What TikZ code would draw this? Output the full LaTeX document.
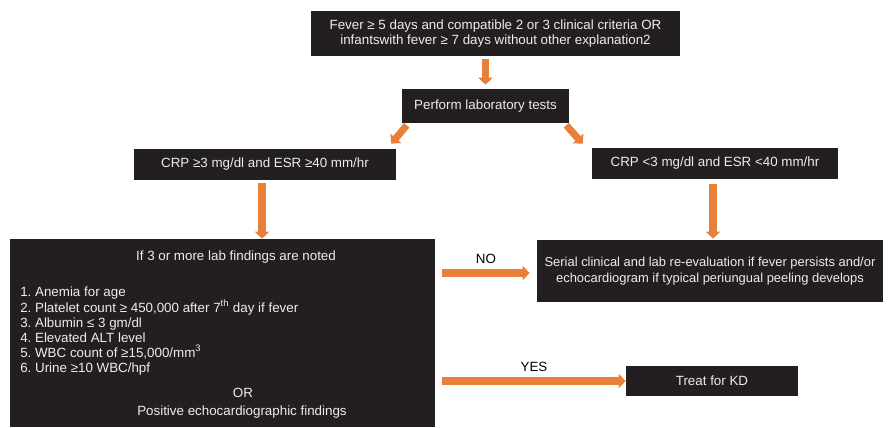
\documentclass[tikz,border=0pt]{standalone}
\usepackage{fontspec}
\setmainfont{Liberation Sans}
\usepackage{xcolor}
\usetikzlibrary{arrows.meta, positioning, calc}
\definecolor{boxfill}{HTML}{231F20}
\definecolor{boxtext}{HTML}{EDEDED}
\definecolor{flow}{HTML}{E8803A}
\frenchspacing

\begin{document}
\begin{tikzpicture}[x=0.025cm, y=-0.025cm,
  box/.style={fill=boxfill, text=boxtext, inner sep=0pt, align=center, font=\fontsize{9.5}{11.3}\selectfont},
  boxtxt/.style={text=boxtext, inner sep=0pt, font=\fontsize{9.5}{10.7}\selectfont},
  flowarrow/.style={draw=flow, line width=5pt, -{Triangle[width=10pt, length=5pt]}},
  tag/.style={inner sep=0pt, font=\fontsize{9.5}{11}\selectfont}]
  \useasboundingbox (0,0) rectangle (889,428);
  \node[box, minimum width=9.225cm, minimum height=1.125cm] (fever) at (495.5,33.5) {Fever ≥ 5 days and compatible 2 or 3 clinical criteria OR\\infantswith fever ≥ 7 days without other explanation2};
  \node[box, minimum width=4.175cm, minimum height=0.85cm] (lab) at (485.5,106) {Perform laboratory tests};
  \node[box, minimum width=6.55cm, minimum height=0.775cm] (crphi) at (265,164.5) {CRP ≥3 mg/dl and ESR ≥40 mm/hr};
  \node[box, minimum width=6.15cm, minimum height=0.775cm] (crplo) at (715,163.5) {CRP <3 mg/dl and ESR <40 mm/hr};
  \node[box, minimum width=10.625cm, minimum height=4.7cm] (findings) at (222.5,333) {};
  \node[box, minimum width=8.65cm, minimum height=1.55cm, font=\fontsize{9.2}{11.3}\selectfont] (serial) at (710,271) {Serial clinical and lab re-evaluation if fever persists and/or\\echocardiogram if typical periungual peeling develops};
  \node[box, minimum width=4.3cm, minimum height=0.75cm] (treat) at (712,381) {Treat for KD};
  % text inside the findings box
  \node[boxtxt] (head) at (236,257) {If 3 or more lab findings are noted};
  \node[boxtxt, anchor=north west, align=left] (list) at (20,287) {1. Anemia for age\\2. Platelet count ≥ 450,000 after 7\textsuperscript{th} day if fever\\3. Albumin ≤ 3 gm/dl\\4. Elevated ALT level\\5. WBC count of ≥15,000/mm\textsuperscript{3}\\6. Urine ≥10 WBC/hpf};
  \node[boxtxt] (or) at (243,393) {OR};
  \node[boxtxt] (echo) at (242,412) {Positive echocardiographic findings};
  % arrows
  \draw[flowarrow] ($(lab.north |- fever.south)+(0,3)$) -- ($(lab.north)+(0,-4)$);
  \draw[flowarrow] ($(lab.south west)+(5,2)$) -- ($(crphi.north east)+(-5,-5)$);
  \draw[flowarrow] ($(lab.south east)+(-3,2)$) -- ($(crplo.north west)+(-9,-4)$);
  \draw[flowarrow] ($(crphi.south)+(-3,3)$) -- ($(crphi.south |- findings.north)+(-3,0)$);
  \draw[flowarrow] ($(crplo.south)+(-2,5)$) -- ($(crplo.south |- serial.north)+(-2,-1)$);
  \draw[flowarrow] ($(findings.east |- serial.west)+(7,2)$) -- ($(serial.west)+(-7,2)$)
    node[midway, above=4pt, tag] {NO};
  \draw[flowarrow] ($(findings.east |- treat.west)+(7,0)$) -- (treat.west)
    node[midway, above=4pt, tag] {YES};
\end{tikzpicture}
\end{document}
